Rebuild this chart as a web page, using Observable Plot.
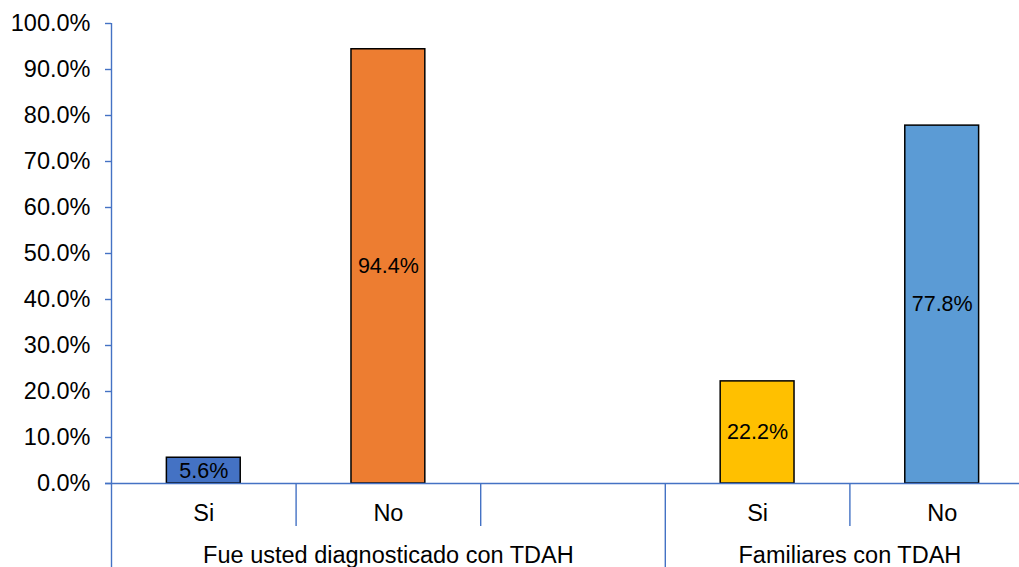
<!DOCTYPE html>
<html>
<head>
<meta charset="utf-8">
<script src="https://cdn.jsdelivr.net/npm/d3@7"></script>
<script src="https://cdn.jsdelivr.net/npm/@observablehq/plot@0.6"></script>
<style>
  html, body { margin: 0; padding: 0; background: #fff; overflow: hidden; }
  #chart svg { display: block; font-family: "Liberation Sans", Arial, sans-serif; }
</style>
</head>
<body>
<div id="chart"></div>
<script>
// Data
const groups = ["Fue usted diagnosticado con TDAH", "Familiares con TDAH"];
const groupCenters = [1.5, 4];            // slot-units positions of group labels
const categories = ["Si", "No", "", "Si", "No"];
const values = [0.056, 0.944, null, 0.222, 0.778];
const colors = ["#4472C4", "#ED7D31", null, "#FFC000", "#5B9BD5"];
const yTicks = [0, 0.1, 0.2, 0.3, 0.4, 0.5, 0.6, 0.7, 0.8, 0.9, 1.0];
const shortSeparators = [1, 2, 4];
const longSeparators = [0, 3];

const slots = categories.map((c, i) => ({i, cat: c, value: values[i], color: colors[i]}));
const bars = slots.filter(d => d.value != null);
const axisColor = "#4472C4";

const chart = Plot.plot({
  width: 1019,
  height: 567,
  x: {type: "linear", domain: [0, 5], range: [111, 1034], axis: null},
  y: {domain: [0, 1], range: [483, 23], axis: null},
  style: {fontFamily: "Liberation Sans, Arial, sans-serif", background: "white", overflow: "hidden"},
  marks: [
    // y tick marks and labels
    Plot.ruleY(yTicks, {y: d => d, x1: -0.0325, x2: 0, stroke: axisColor, strokeWidth: 1.4}),
    Plot.text(yTicks, {y: d => d, x: 0, text: d => (d * 100).toFixed(1) + "%", textAnchor: "end", dx: -21, fontSize: 23.5, fill: "#000"}),
    // y axis line
    Plot.ruleX([0], {x: d => d, y1: 1, y2: 0, stroke: axisColor, strokeWidth: 1.4}),
    // bars
    Plot.rectY(bars, {x1: d => d.i + 0.3, x2: d => d.i + 0.7, y: "value", fill: "color", stroke: "#000", strokeWidth: 1.5}),
    // baseline
    Plot.ruleY([0], {y: d => d, x1: -0.0325, x2: 5, stroke: axisColor, strokeWidth: 1.4}),
    // separators
    Plot.ruleX(shortSeparators, {x: d => d, y1: 0, y2: -0.0935, stroke: axisColor, strokeWidth: 1.4}),
    Plot.ruleX(longSeparators, {x: d => d, y1: 0, y2: -0.2, stroke: axisColor, strokeWidth: 1.4}),
    // value labels centered in bars
    Plot.text(bars, {x: d => d.i + 0.5, y: d => d.value / 2, text: d => (d.value * 100).toFixed(1) + "%", fontSize: 21.5, fill: "#000"}),
    // category labels
    Plot.text(slots.filter(d => d.cat), {x: d => d.i + 0.5, y: 0, text: "cat", dy: 30, fontSize: 23.5, fill: "#000"}),
    // group labels
    Plot.text(groups, {x: (d, i) => groupCenters[i], y: 0, text: d => d, dy: 72, fontSize: 23.5, fill: "#000"})
  ]
});
document.getElementById("chart").append(chart);
</script>
</body>
</html>
